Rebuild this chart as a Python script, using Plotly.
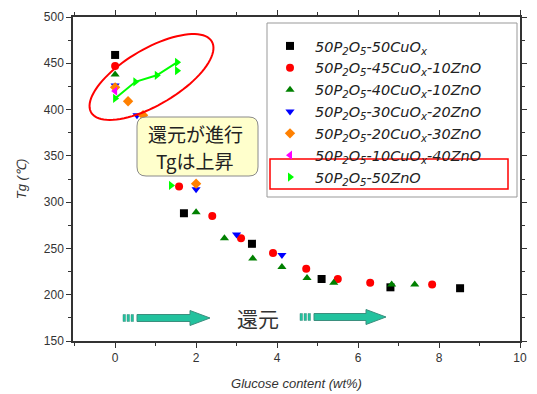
import numpy as np
import plotly.graph_objects as go

# ---------------- data ----------------
cuo50_x = [0, 1.7, 3.38, 5.1, 6.8, 8.52]
cuo50_y = [459, 288, 255, 217, 208, 207]

cuo45_x = [0, 1.58, 2.4, 3.11, 3.9, 4.72, 5.5, 6.3, 7.83]
cuo45_y = [447, 317, 285, 261, 245, 228, 217, 213, 211]

cuo40_x = [0, 2.0, 2.7, 3.4, 4.12, 4.74, 5.4, 6.83, 7.4]
cuo40_y = [438, 289, 261, 239, 230, 218, 213, 211, 211]

cuo30_x = [0, 0.54, 2.0, 3.0, 4.12]
cuo30_y = [426, 394, 314, 265, 243]

cuo20_x = [0, 0.32, 0.69, 2.0]
cuo20_y = [424, 409, 394, 320]

cuo10_x = [0]
cuo10_y = [420]

zno50_x = [0, 0.5, 1.03, 1.53, 1.53, 1.38]
zno50_y = [412, 430, 437, 451, 442, 318]
zno50_line_x = [0, 0.5, 1.03, 1.53]
zno50_line_y = [412, 430, 437, 451]

series_names = [
    "50P<sub>2</sub>O<sub>5</sub>-50CuO<sub>x</sub>",
    "50P<sub>2</sub>O<sub>5</sub>-45CuO<sub>x</sub>-10ZnO",
    "50P<sub>2</sub>O<sub>5</sub>-40CuO<sub>x</sub>-10ZnO",
    "50P<sub>2</sub>O<sub>5</sub>-30CuO<sub>x</sub>-20ZnO",
    "50P<sub>2</sub>O<sub>5</sub>-20CuO<sub>x</sub>-30ZnO",
    "50P<sub>2</sub>O<sub>5</sub>-10CuO<sub>x</sub>-40ZnO",
    "50P<sub>2</sub>O<sub>5</sub>-50ZnO",
]
series_colors = ["#000000", "#ff0000", "#008000", "#0000ff", "#ff8000", "#ff00ff", "#00ff00"]
series_symbols = ["square", "circle", "triangle-up", "triangle-down", "diamond", "triangle-left", "triangle-right"]

x_ticks = [0, 2, 4, 6, 8, 10]
y_ticks = [150, 200, 250, 300, 350, 400, 450, 500]
x_range = [-1.04, 10]
y_range = [150, 500]

# ---------------- geometry helpers ----------------
# the page body adds an 8px offset; the figure is sized to fit the window
OFF = 8
W, H = 537 - OFF, 394 - OFF
L, R, T, B = 73, 520, 17, 341   # plot area in window pixels


def px_x(px):
    return x_range[0] + (px - L) / (R - L) * (x_range[1] - x_range[0])


def px_y(py):
    return y_range[1] - (py - T) / (B - T) * (y_range[1] - y_range[0])


def pap_x(px):
    return (px - L) / (R - L)


def pap_y(py):
    return (B - py) / (B - T)


fig = go.Figure()

# green line for 50ZnO
fig.add_trace(go.Scatter(x=zno50_line_x, y=zno50_line_y, mode="lines",
                         line=dict(color="#00ff00", width=2), showlegend=False,
                         hoverinfo="skip"))

all_x = [cuo50_x, cuo45_x, cuo40_x, cuo30_x, cuo20_x, cuo10_x, zno50_x]
all_y = [cuo50_y, cuo45_y, cuo40_y, cuo30_y, cuo20_y, cuo10_y, zno50_y]
for i, (xs, ys, nm, c, s) in enumerate(zip(all_x, all_y, series_names, series_colors, series_symbols)):
    fig.add_trace(go.Scatter(x=xs, y=ys, mode="markers", name=nm, legendgroup=f"g{i}",
                             marker=dict(color=c, symbol=s, size=8, line=dict(width=0))))

shapes = []

# legend box
shapes.append(dict(type="rect", xref="paper", yref="paper",
                   x0=pap_x(267), x1=pap_x(517), y0=pap_y(197), y1=pap_y(23),
                   line=dict(color="#999999", width=1), fillcolor="white", layer="below"))
# red box around last legend entry
shapes.append(dict(type="rect", xref="paper", yref="paper",
                   x0=pap_x(270), x1=pap_x(508), y0=pap_y(189), y1=pap_y(159),
                   line=dict(color="#ff0000", width=1.5), layer="above"))

# red ellipse
cx, cy, a, b, ang = 151.5, 77, 70, 28, np.deg2rad(30.5)
t = np.linspace(0, 2 * np.pi, 90)
ex = cx + a * np.cos(t) * np.cos(ang) + b * np.sin(t) * np.sin(ang)
ey = cy - a * np.cos(t) * np.sin(ang) + b * np.sin(t) * np.cos(ang)
path = "M " + " L ".join(f"{px_x(u):.4f},{px_y(v):.4f}" for u, v in zip(ex, ey)) + " Z"
shapes.append(dict(type="path", xref="x", yref="y", path=path,
                   line=dict(color="#ff0000", width=2), layer="above"))

# rounded callout box
x0, y0, x1, y1, r = 137, 117, 258, 176, 9


def P(u, v):
    return f"{px_x(u):.4f},{px_y(v):.4f}"


cpath = (f"M {P(x0 + r, y0)} L {P(x1 - r, y0)} Q {P(x1, y0)} {P(x1, y0 + r)} "
         f"L {P(x1, y1 - r)} Q {P(x1, y1)} {P(x1 - r, y1)} "
         f"L {P(x0 + r, y1)} Q {P(x0, y1)} {P(x0, y1 - r)} "
         f"L {P(x0, y0 + r)} Q {P(x0, y0)} {P(x0 + r, y0)} Z")
shapes.append(dict(type="path", xref="x", yref="y", path=cpath,
                   line=dict(color="#8a8a8a", width=1), fillcolor="#ffffcc", layer="above"))


# teal arrows
def arrow(xs, xe, yc):
    out = []
    fill, edge = "#22c29e", "#3b8f7e"
    for dx in (0, 4, 8):
        out.append(dict(type="rect", xref="x", yref="y",
                        x0=px_x(xs + dx), x1=px_x(xs + dx + 2.5),
                        y0=px_y(yc + 3.5), y1=px_y(yc - 3.5),
                        line=dict(color=edge, width=0.5), fillcolor=fill, layer="above"))
    hx = xe - 20
    ap = (f"M {P(xs + 14, yc - 3.5)} L {P(hx, yc - 3.5)} L {P(hx, yc - 7.5)} "
          f"L {P(xe, yc)} L {P(hx, yc + 7.5)} L {P(hx, yc + 3.5)} L {P(xs + 14, yc + 3.5)} Z")
    out.append(dict(type="path", xref="x", yref="y", path=ap,
                    line=dict(color=edge, width=1), fillcolor=fill, layer="above"))
    return out


shapes += arrow(123, 210, 318)
shapes += arrow(300, 386, 317)

annotations = [
    dict(x=px_x(195), y=px_y(133), xref="x", yref="y", text="還元が進行", showarrow=False,
         font=dict(family="Noto Sans CJK JP", size=19, color="#222222")),
    dict(x=px_x(195), y=px_y(160), xref="x", yref="y", text="Tgは上昇", showarrow=False,
         font=dict(family="Noto Sans CJK JP", size=19, color="#222222")),
    dict(x=px_x(258), y=px_y(318), xref="x", yref="y", text="還元", showarrow=False,
         font=dict(family="Noto Sans CJK JP", size=21, color="#333333")),
]

axis_common = dict(showline=True, linecolor="#333333", linewidth=1.5, mirror="ticks",
                   showgrid=False, zeroline=False, ticks="outside", ticklen=5,
                   tickcolor="#333333", automargin=False,
                   tickfont=dict(family="Liberation Sans", size=12, color="#333333"))

fig.update_layout(
    width=W, height=H,
    margin=dict(l=L - OFF, r=537 - R, t=T - OFF, b=394 - B, autoexpand=False),
    paper_bgcolor="white", plot_bgcolor="white",
    xaxis=dict(range=x_range, tickvals=x_ticks,
               minor=dict(dtick=1, ticks="outside", ticklen=3, tickcolor="#333333"),
               title=dict(text="Glucose content (wt%)", standoff=15,
                          font=dict(family="Liberation Sans", size=13, color="#333333",
                                    style="italic")),
               **axis_common),
    yaxis=dict(range=y_range, tickvals=y_ticks,
               minor=dict(dtick=25, ticks="outside", ticklen=3, tickcolor="#333333"),
               title=dict(text="Tg (℃)", standoff=14,
                          font=dict(family="Liberation Sans", size=13, color="#333333",
                                    style="italic")),
               **axis_common),
    legend=dict(x=pap_x(265), y=pap_y(30), xanchor="left", yanchor="top",
                bgcolor="rgba(0,0,0,0)", borderwidth=0, tracegroupgap=0,
                font=dict(family="DejaVu Sans", size=14.5, color="#222222", style="italic"),
                itemwidth=40),
    shapes=shapes,
    annotations=annotations,
    showlegend=True,
)

fig.write_html("out.html")
